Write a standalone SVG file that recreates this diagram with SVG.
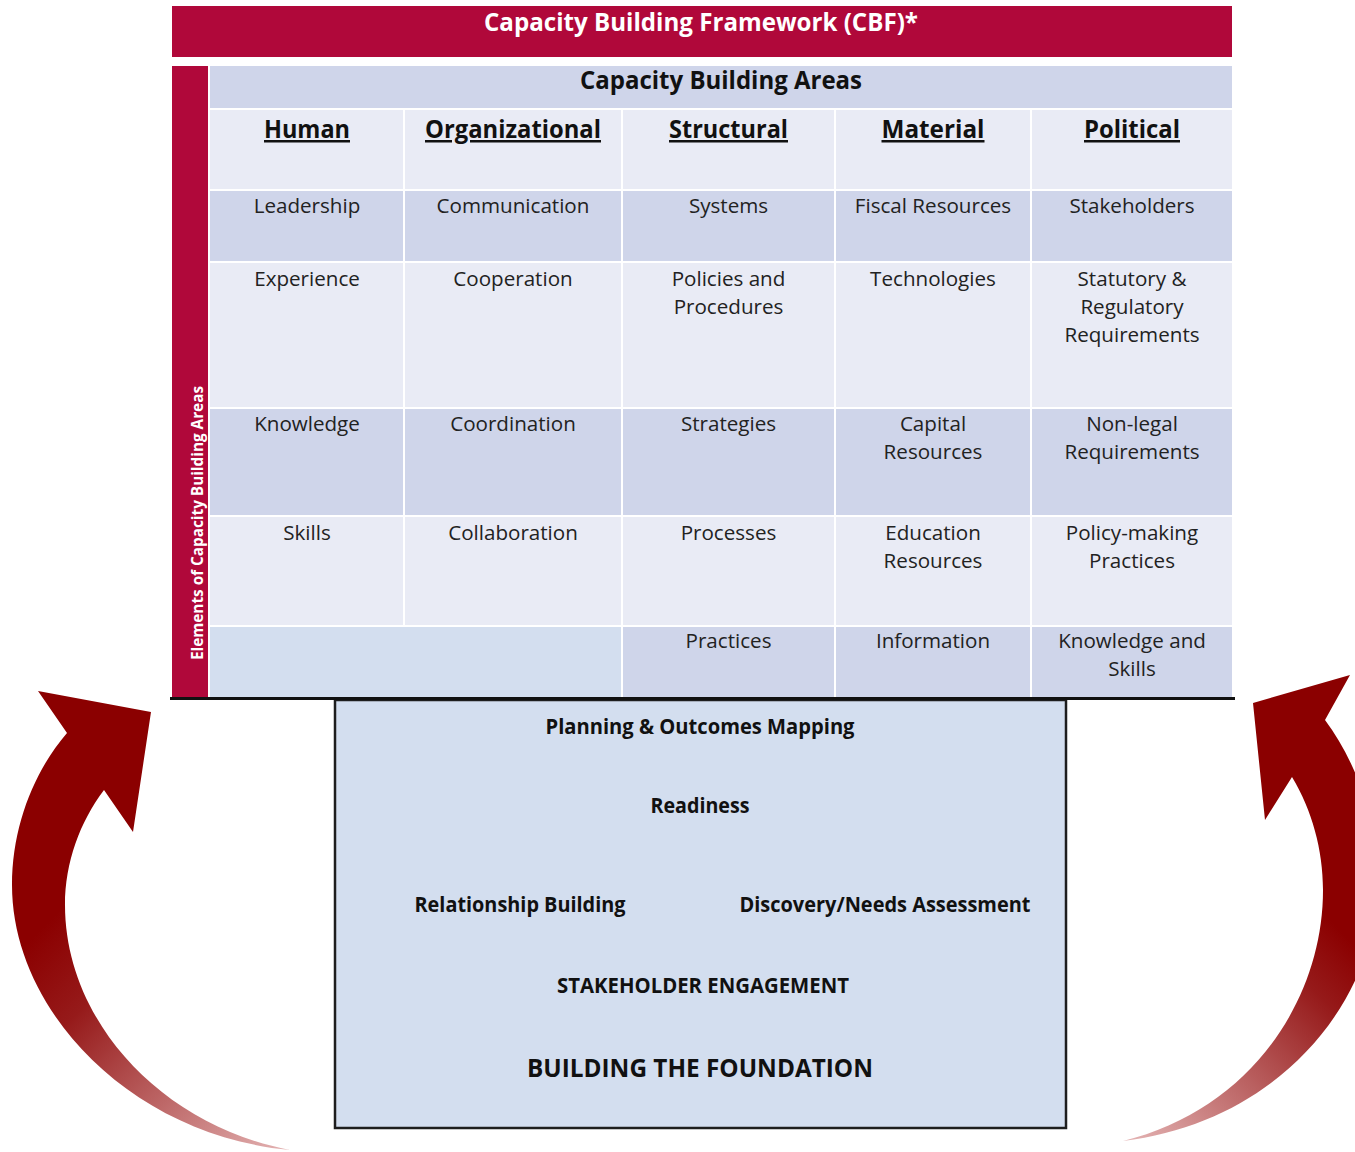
<svg xmlns="http://www.w3.org/2000/svg" width="1355" height="1152" viewBox="0 0 1355 1152">
  <defs>
    <style>
      .bar { fill: #b0083a; }
      .hdr { fill: #cfd5ea; }
      .lt { fill: #e9ebf5; }
      .dk { fill: #cfd5ea; }
      .blue { fill: #d3deef; }
      .title { font-family: "Open Sans", "Noto Sans", sans-serif; font-weight: 700; fill: #ffffff; text-anchor: middle; }
      .area { font-family: "Open Sans", "Noto Sans", sans-serif; font-weight: 700; fill: #111111; text-anchor: middle; font-size: 25px; }
      .col { font-family: "Open Sans", "Noto Sans", sans-serif; font-weight: 700; fill: #111111; text-anchor: middle; font-size: 25px; text-decoration: underline; }
      .cell { font-family: "Open Sans", "Noto Sans", sans-serif; fill: #222222; text-anchor: middle; font-size: 20.6px; }
      .found { font-family: "Open Sans", "Noto Sans", sans-serif; font-weight: 700; fill: #111111; text-anchor: middle; font-size: 21px; }
      .found-big { font-size: 25.5px; }
    </style>
    <linearGradient id="fadeL" gradientUnits="userSpaceOnUse" x1="60" y1="910" x2="300" y2="1150">
      <stop offset="0" stop-color="#8b0000"/>
      <stop offset="0.25" stop-color="#961a1a"/>
      <stop offset="1" stop-color="#e6b8b8"/>
    </linearGradient>
    <linearGradient id="fadeR" gradientUnits="userSpaceOnUse" x1="1340" y1="930" x2="1120" y2="1145">
      <stop offset="0" stop-color="#8b0000"/>
      <stop offset="0.2" stop-color="#961a1a"/>
      <stop offset="1" stop-color="#e6b8b8"/>
    </linearGradient>
  </defs>

  <rect width="1355" height="1152" fill="#ffffff"/>

  <!-- framework title -->
  <g id="title">
    <rect class="bar" x="172" y="6" width="1060" height="51"/>
    <text class="title" x="701" y="31" font-size="25" textLength="434" lengthAdjust="spacingAndGlyphs">Capacity Building Framework (CBF)*</text>
  </g>

  <!-- vertical side label -->
  <g id="side-label">
    <rect class="bar" x="172" y="66" width="36" height="632"/>
    <text class="title" transform="translate(203 523) rotate(-90)" font-size="16" textLength="274" lengthAdjust="spacingAndGlyphs">Elements of Capacity Building Areas</text>
  </g>

  <!-- areas header -->
  <g id="areas-header">
    <rect class="hdr" x="210" y="66" width="1022" height="42"/>
    <text class="area" x="721" y="89" textLength="282" lengthAdjust="spacingAndGlyphs">Capacity Building Areas</text>
  </g>

  <!-- column: Human -->
  <g id="col-human">
    <rect class="lt" x="210" y="110" width="193" height="79"/>
    <text class="col" x="307" y="138" textLength="86" lengthAdjust="spacingAndGlyphs">Human</text>
    <rect class="dk" x="210" y="191" width="193" height="70"/>
    <text class="cell" x="307" y="213">Leadership</text>
    <rect class="lt" x="210" y="263" width="193" height="144"/>
    <text class="cell" x="307" y="286">Experience</text>
    <rect class="dk" x="210" y="409" width="193" height="106"/>
    <text class="cell" x="307" y="431">Knowledge</text>
    <rect class="lt" x="210" y="517" width="193" height="108"/>
    <text class="cell" x="307" y="540">Skills</text>
  </g>

  <!-- column: Organizational -->
  <g id="col-organizational">
    <rect class="lt" x="405" y="110" width="216" height="79"/>
    <text class="col" x="513" y="138" textLength="176" lengthAdjust="spacingAndGlyphs">Organizational</text>
    <rect class="dk" x="405" y="191" width="216" height="70"/>
    <text class="cell" x="513" y="213">Communication</text>
    <rect class="lt" x="405" y="263" width="216" height="144"/>
    <text class="cell" x="513" y="286">Cooperation</text>
    <rect class="dk" x="405" y="409" width="216" height="106"/>
    <text class="cell" x="513" y="431">Coordination</text>
    <rect class="lt" x="405" y="517" width="216" height="108"/>
    <text class="cell" x="513" y="540">Collaboration</text>
  </g>

  <!-- merged empty cell under Human / Organizational -->
  <g id="empty-cell">
    <rect class="blue" x="210" y="627" width="411" height="70"/>
  </g>

  <!-- column: Structural -->
  <g id="col-structural">
    <rect class="lt" x="623" y="110" width="211" height="79"/>
    <text class="col" x="728.5" y="138" textLength="119" lengthAdjust="spacingAndGlyphs">Structural</text>
    <rect class="dk" x="623" y="191" width="211" height="70"/>
    <text class="cell" x="728.5" y="213">Systems</text>
    <rect class="lt" x="623" y="263" width="211" height="144"/>
    <text class="cell" x="728.5" y="286">Policies and</text>
    <text class="cell" x="728.5" y="314">Procedures</text>
    <rect class="dk" x="623" y="409" width="211" height="106"/>
    <text class="cell" x="728.5" y="431">Strategies</text>
    <rect class="lt" x="623" y="517" width="211" height="108"/>
    <text class="cell" x="728.5" y="540">Processes</text>
    <rect class="dk" x="623" y="627" width="211" height="70"/>
    <text class="cell" x="728.5" y="648">Practices</text>
  </g>

  <!-- column: Material -->
  <g id="col-material">
    <rect class="lt" x="836" y="110" width="194" height="79"/>
    <text class="col" x="933" y="138" textLength="103" lengthAdjust="spacingAndGlyphs">Material</text>
    <rect class="dk" x="836" y="191" width="194" height="70"/>
    <text class="cell" x="933" y="213">Fiscal Resources</text>
    <rect class="lt" x="836" y="263" width="194" height="144"/>
    <text class="cell" x="933" y="286">Technologies</text>
    <rect class="dk" x="836" y="409" width="194" height="106"/>
    <text class="cell" x="933" y="431">Capital</text>
    <text class="cell" x="933" y="459">Resources</text>
    <rect class="lt" x="836" y="517" width="194" height="108"/>
    <text class="cell" x="933" y="540">Education</text>
    <text class="cell" x="933" y="568">Resources</text>
    <rect class="dk" x="836" y="627" width="194" height="70"/>
    <text class="cell" x="933" y="648">Information</text>
  </g>

  <!-- column: Political -->
  <g id="col-political">
    <rect class="lt" x="1032" y="110" width="200" height="79"/>
    <text class="col" x="1132" y="138" textLength="96" lengthAdjust="spacingAndGlyphs">Political</text>
    <rect class="dk" x="1032" y="191" width="200" height="70"/>
    <text class="cell" x="1132" y="213">Stakeholders</text>
    <rect class="lt" x="1032" y="263" width="200" height="144"/>
    <text class="cell" x="1132" y="286">Statutory &amp;</text>
    <text class="cell" x="1132" y="314">Regulatory</text>
    <text class="cell" x="1132" y="342">Requirements</text>
    <rect class="dk" x="1032" y="409" width="200" height="106"/>
    <text class="cell" x="1132" y="431">Non-legal</text>
    <text class="cell" x="1132" y="459">Requirements</text>
    <rect class="lt" x="1032" y="517" width="200" height="108"/>
    <text class="cell" x="1132" y="540">Policy-making</text>
    <text class="cell" x="1132" y="568">Practices</text>
    <rect class="dk" x="1032" y="627" width="200" height="70"/>
    <text class="cell" x="1132" y="648">Knowledge and</text>
    <text class="cell" x="1132" y="676">Skills</text>
  </g>

  <!-- foundation block -->
  <g id="foundation">
    <rect x="335" y="700" width="731" height="428" fill="#d3deef" stroke="#1e1e1e" stroke-width="2.5"/>
    <text class="found" x="700" y="734" textLength="309" lengthAdjust="spacingAndGlyphs">Planning &amp; Outcomes Mapping</text>
    <text class="found" x="700" y="813" textLength="99" lengthAdjust="spacingAndGlyphs">Readiness</text>
    <text class="found" x="520" y="912" textLength="211" lengthAdjust="spacingAndGlyphs">Relationship Building</text>
    <text class="found" x="885" y="912" textLength="291" lengthAdjust="spacingAndGlyphs">Discovery/Needs Assessment</text>
    <text class="found" x="703" y="993" textLength="292" lengthAdjust="spacingAndGlyphs">STAKEHOLDER ENGAGEMENT</text>
    <text class="found found-big" x="700" y="1077" textLength="346" lengthAdjust="spacingAndGlyphs">BUILDING THE FOUNDATION</text>
  </g>

  <!-- connectors: base line and the two curved arrows -->
  <g id="connectors">
    <line x1="170" y1="698.5" x2="1235" y2="698.5" stroke="#111111" stroke-width="3"/>
    <path d="M 67 733 C 35 770 12 825 12 885 C 12 1010 130 1135 290 1150 C 160 1125 65 1020 65 905 C 65 862 80 822 104 790 L 133 832 L 151 712 L 38 691 Z" fill="url(#fadeL)"/>
    <path d="M 1325 720 C 1355 760 1378 820 1378 880 C 1378 1000 1280 1122 1123 1141 C 1250 1110 1323 1000 1323 890 C 1323 850 1312 810 1292 777 L 1265 820 L 1253 703 L 1350 675 Z" fill="url(#fadeR)"/>
  </g>
</svg>
